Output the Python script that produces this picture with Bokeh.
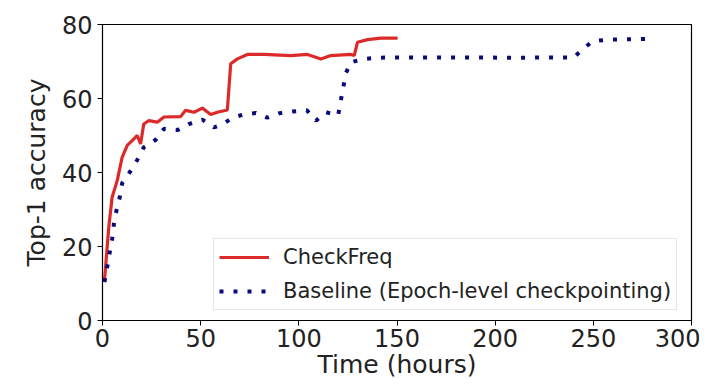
from bokeh.plotting import figure
from bokeh.models import Legend, LegendItem, Range1d, FixedTicker
from bokeh.embed import file_html
from bokeh.resources import INLINE

# CheckFreq (hours, top-1 accuracy)
cf_time = [1, 3.2, 4.9, 7.5, 10, 12.6, 16, 17.7, 19.4, 21, 23.6, 27.9, 31.3, 39.8, 42.3,
           46.6, 50.9, 55.1, 58.5, 63.6, 65.3, 68.7, 73.8, 82.3, 95.9, 104.4, 111.2,
           116.3, 126.5, 128.2, 129.9, 135, 141.8, 150.3]
cf_acc = [10.8, 25.2, 33.3, 37.8, 44.1, 47.3, 49.1, 50, 47.7, 53.1, 54, 53.6, 55, 55.1, 56.8,
          56.3, 57.4, 55.7, 56.3, 56.9, 69.4, 70.7, 71.9, 71.9, 71.6, 71.9, 70.7,
          71.6, 71.9, 71.6, 75.2, 75.9, 76.3, 76.3]

# Baseline (Epoch-level checkpointing)
bl_time = [1, 2.4, 3.7, 4.9, 5.8, 7.1, 8.8, 10, 13.9, 17.7, 21, 27, 31.3, 38.4, 44, 50.9,
           56.8, 61.1, 66.2, 72.1, 78.1, 84, 90, 96.8, 104.1, 108.7, 113.8, 120, 121.4,
           122.6, 124, 126.5, 133.3, 140.1, 147.8, 154.6, 170, 190, 210, 225, 240,
           244.7, 249.8, 257.5, 279.6]
bl_acc = [10.4, 14.4, 18.5, 22, 26.1, 29.7, 33.3, 37.1, 40.1, 43.4, 46.8, 48.8, 51.8, 51.5,
          53.1, 54.3, 52.2, 53, 54.8, 55.7, 56.1, 54.8, 56, 56.5, 56.8, 54, 56.3, 55.4,
          59.5, 62.9, 66.9, 69.8, 70.7, 71, 71.1, 71.1, 71.1, 71.1, 71.0, 71.1, 71.1,
          73.4, 75.5, 75.9, 76.1]

x_ticks = [0, 50, 100, 150, 200, 250, 300]
y_ticks = [0, 20, 40, 60, 80]

FONT = "DejaVu Sans"

p = figure(width=700, height=390, output_backend="svg", toolbar_location=None,
           x_range=Range1d(0, 300), y_range=Range1d(0, 80),
           min_border_left=102, min_border_right=9, min_border_top=24, min_border_bottom=70)
p.xgrid.visible = False
p.ygrid.visible = False
p.outline_line_color = "black"
p.outline_line_width = 1.2

for ax in (p.xaxis[0], p.yaxis[0]):
    ax.major_label_text_font = FONT
    ax.major_label_text_font_size = "24px"
    ax.major_label_text_color = "#222222"
    ax.axis_label_text_font = FONT
    ax.axis_label_text_font_size = "25px"
    ax.axis_label_text_font_style = "normal"
    ax.axis_label_text_color = "#222222"
    ax.minor_tick_line_color = None
    ax.major_tick_in = 0
    ax.major_tick_out = 5
    ax.axis_line_color = "black"

p.xaxis.ticker = FixedTicker(ticks=x_ticks)
p.yaxis.ticker = FixedTicker(ticks=y_ticks)
p.xaxis.axis_label = "Time (hours)"
p.yaxis.axis_label = "Top-1 accuracy"
p.xaxis.axis_label_standoff = 0
p.yaxis.axis_label_standoff = 8
p.xaxis.major_label_standoff = 3
p.yaxis.major_label_standoff = 5

r1 = p.line(cf_time, cf_acc, line_color="#dc2a2a", line_width=3.2)
r2 = p.line(bl_time, bl_acc, line_color="#0a0a7a", line_width=4, line_dash="4 10")

legend = Legend(items=[LegendItem(label="CheckFreq", renderers=[r1]),
                       LegendItem(label="Baseline (Epoch-level checkpointing)", renderers=[r2])],
                location=(111, 10))
legend.label_text_font = FONT
legend.label_text_font_size = "21px"
legend.label_text_color = "#222222"
legend.glyph_width = 50
legend.glyph_height = 20
legend.label_height = 26
legend.label_standoff = 14
legend.spacing = 8
legend.padding = 5
legend.margin = 0
legend.border_line_color = "#cccccc"
legend.border_line_width = 1
legend.background_fill_alpha = 0.8
p.add_layout(legend, "center")

open("out.html", "w").write(file_html(p, INLINE))
